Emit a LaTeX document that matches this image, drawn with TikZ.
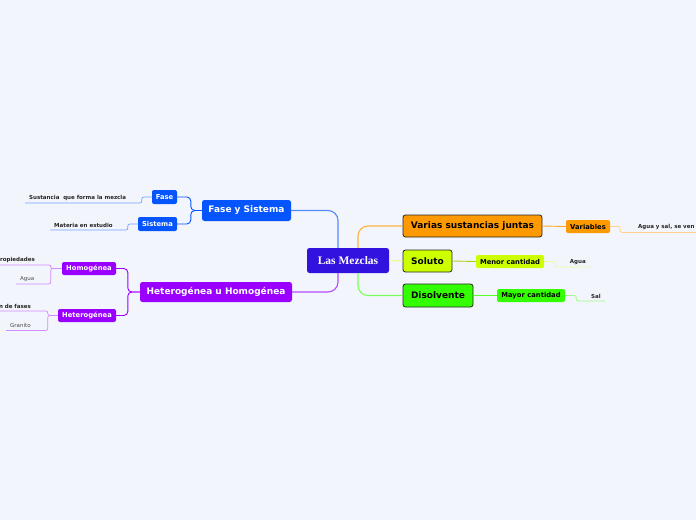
\documentclass[tikz,border=0pt]{standalone}
\usepackage{fontspec}
\setmainfont{DejaVu Sans}
\newfontfamily\serifbold{Liberation Serif}
\definecolor{fondo}{RGB}{243,245,252}
\definecolor{raiz}{RGB}{50,18,222}
\definecolor{azul}{RGB}{5,85,255}
\definecolor{morado}{RGB}{153,0,255}
\definecolor{naranja}{RGB}{255,153,0}
\definecolor{lima}{RGB}{204,255,0}
\definecolor{verde}{RGB}{51,255,0}
\tikzset{
  tema/.style={rounded corners=2.5pt, inner sep=0pt, font=\fontsize{9}{11}\selectfont\bfseries},
  borde/.style={tema, draw=black!85, line width=0.8pt},
  sub/.style={rounded corners=2pt, inner sep=0pt, font=\fontsize{6.8}{8}\selectfont\bfseries},
  hoja/.style={inner xsep=0pt, inner ysep=2.5pt, font=\fontsize{5.5}{6.5}\selectfont\bfseries, text=black!85},
  suave/.style={hoja, font=\fontsize{5.5}{6.5}\selectfont, text=black!70},
  rama/.style={line width=1.1pt, rounded corners=10pt},
  brazo/.style={line width=0.9pt, rounded corners=4pt},
  linea/.style={line width=0.7pt, rounded corners=2pt}
}
\begin{document}
\begin{tikzpicture}[x=1pt, y=-1pt]
  \useasboundingbox (0,0) rectangle (696,520);
  \fill[fondo] (0,0) rectangle (696,520);

  % centro
  \node[tema, fill=raiz, text=white, minimum width=82pt, minimum height=25pt,
    font=\fontsize{11.5}{13}\serifbold\bfseries] (root) at (348,260.5) {Las Mezclas};

  % lado izquierdo
  \node[tema, fill=azul, text=white, minimum width=89pt, minimum height=21pt] (fys) at (246.5,210.5) {Fase y Sistema};
  \node[sub, fill=azul, text=white, minimum width=25pt, minimum height=14pt] (fase) at (164.5,197) {Fase};
  \node[sub, fill=azul, text=white, minimum width=39pt, minimum height=14pt] (sis) at (157.5,224) {Sistema};
  \node[tema, fill=morado, text=white, minimum width=152pt, minimum height=20pt] (huh) at (216,292) {Heterogénea u Homogénea};
  \node[sub, fill=morado, text=white, minimum width=54pt, minimum height=13pt] (hom) at (89,268.5) {Homogénea};
  \node[sub, fill=morado, text=white, minimum width=58pt, minimum height=13pt] (het) at (87,315.5) {Heterogénea};

  \coordinate (susl) at (25,203);
  \coordinate (matl) at (50,230);
  \coordinate (propl) at (0,265);
  \coordinate (agual) at (16,284);
  \coordinate (fasl) at (0,311);
  \coordinate (granl) at (6,330.5);
  \node[hoja, anchor=south west] (sus) at ([xshift=4pt]susl) {Sustancia\ \ que forma la mezcla};
  \node[hoja, anchor=south west] (mat) at ([xshift=4pt]matl) {Materia en estudio};
  \node[hoja, anchor=south east] (prop) at (35,265) {ropiedades};
  \node[suave, anchor=south west] (agua) at ([xshift=4pt]agual) {Agua};
  \node[hoja, anchor=south east] (fas) at (31,311) {n de fases};
  \node[suave, anchor=south west] (gran) at ([xshift=4pt]granl) {Granito};

  \draw[rama, azul!70] ([xshift=-10pt]root.north) |- (fys.east);
  \draw[rama, morado!70] ([xshift=-10pt]root.south) |- (huh.east);
  \draw[brazo, azul] (fys.west) -- ++(-11,0) |- (fase.east);
  \draw[brazo, azul] (fys.west) -- ++(-11,0) |- (sis.east);
  \draw[brazo, morado] (huh.west) -- ++(-12,0) |- (hom.east);
  \draw[brazo, morado] (huh.west) -- ++(-12,0) |- (het.east);
  \draw[linea, azul!55] (fase.west) -- ++(-10,0) |- (susl);
  \draw[linea, azul!55] (sis.west) -- ++(-10,0) |- (matl);
  \draw[linea, morado!45] (hom.west) -- ++(-11,0) |- (propl);
  \draw[linea, morado!45] (hom.west) -- ++(-11,0) |- (agual);
  \draw[linea, morado!45] (het.west) -- ++(-10,0) |- (fasl);
  \draw[linea, morado!45] (het.west) -- ++(-10,0) |- (granl);

  % lado derecho
  \node[borde, fill=naranja, minimum width=139pt, minimum height=22pt] (vsj) at (472.5,226) {Varias sustancias juntas};
  \node[sub, fill=naranja, minimum width=44pt, minimum height=13pt] (var) at (588,226.5) {Variables};
  \node[borde, fill=lima, minimum width=49pt, minimum height=22pt] (sol) at (427.5,261) {Soluto};
  \node[sub, fill=lima, minimum width=68pt, minimum height=13pt] (men) at (510,261.5) {Menor cantidad};
  \node[borde, fill=verde, minimum width=70pt, minimum height=23pt] (dis) at (438,295.5) {Disolvente};
  \node[sub, fill=verde, minimum width=68pt, minimum height=13pt] (may) at (531,295.5) {Mayor cantidad};

  \coordinate (aysl) at (696,232.5);
  \coordinate (agual2) at (590,267);
  \coordinate (sall) at (605,301);
  \node[hoja, anchor=south west] (ays) at (638,232.5) {Agua y sal, se ven l};
  \node[hoja, anchor=south east] (agua2) at ([xshift=-4pt]agual2) {Agua};
  \node[hoja, anchor=south east] (sal) at ([xshift=-4pt]sall) {Sal};

  \draw[rama, naranja!75] ([xshift=10pt]root.north) |- (vsj.west);
  \draw[rama, lima!45!white] (root.east) -- (sol.west);
  \draw[rama, verde!65] ([xshift=10pt]root.south) |- (dis.west);
  \draw[brazo, naranja!85] (vsj.east) -- (var.west);
  \draw[brazo, lima!80!black!90] (sol.east) -- (men.west);
  \draw[brazo, verde!85] (dis.east) -- (may.west);
  \draw[linea, naranja!45] (var.east) -- ++(10,0) |- (aysl);
  \draw[linea, lima!40] (men.east) -- ++(11,0) |- (agual2);
  \draw[linea, verde!50] (may.east) -- ++(11,0) |- (sall);
\end{tikzpicture}
\end{document}
